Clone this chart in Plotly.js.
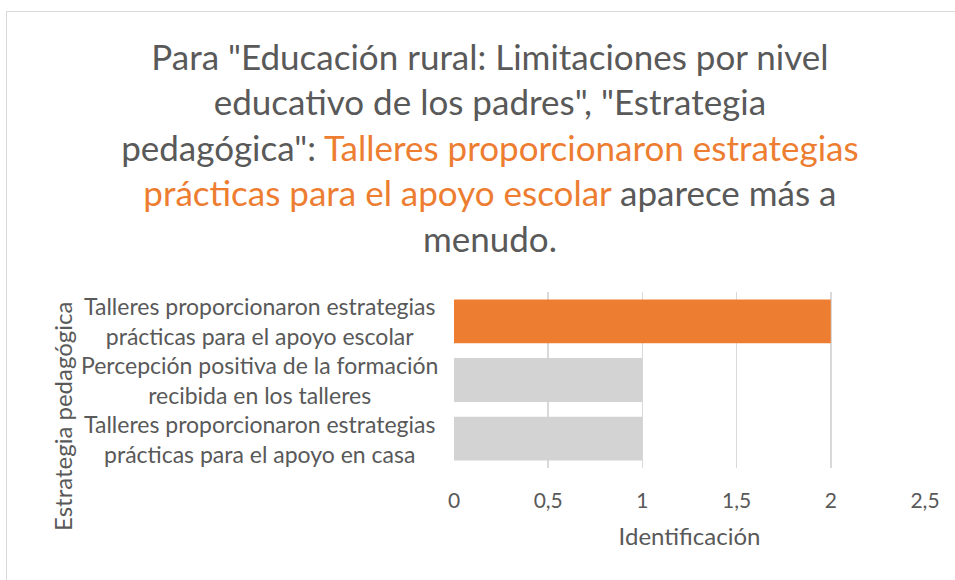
<!DOCTYPE html>
<html>
<head>
<meta charset="utf-8">
<script src="https://cdn.plot.ly/plotly-3.0.1.min.js"></script>
<style>
  html, body { margin: 0; padding: 0; background: #fff; overflow: hidden; }
  #chart { width: 955px; height: 580px; }
  #frame { position: absolute; left: 6px; top: 11px; width: 1200px; height: 1200px;
           border: 1px solid #D9D9D9; pointer-events: none; }
</style>
</head>
<body>
<div id="chart"></div>
<div id="frame"></div>
<script>
// Data (bottom to top as drawn)
const categories = [
  "Talleres proporcionaron estrategias<br>prácticas para el apoyo en casa",
  "Percepción positiva de la formación<br>recibida en los talleres",
  "Talleres proporcionaron estrategias<br>prácticas para el apoyo escolar"
];
const values = [1, 1, 2];
const barColors = ["#D3D3D3", "#D3D3D3", "#ED7D31"];
const xTickVals = [0, 0.5, 1, 1.5, 2, 2.5];
const xTickText = ["0", "0,5", "1", "1,5", "2", "2,5"];

const FONT = "Lato, 'Open Sans', sans-serif";
const GREY = "#595959";

const trace = {
  type: "bar",
  orientation: "h",
  y: categories,
  x: values,
  marker: { color: barColors },
  hoverinfo: "none"
};

const annotations = categories.map(c => ({
  xref: "paper", yref: "y",
  x: -0.414, y: c,
  xanchor: "center", yanchor: "middle",
  text: c, align: "center", showarrow: false,
  font: { family: FONT, size: 23, color: GREY }
}));
annotations.push({
  xref: "paper", yref: "paper",
  x: -0.83, y: 0.29,
  xanchor: "center", yanchor: "middle",
  textangle: -90, text: "Estrategia pedagógica", showarrow: false,
  font: { family: FONT, size: 24, color: GREY }
});

const layout = {
  width: 955, height: 580,
  margin: { l: 454, r: 30, t: 292, b: 112 },
  paper_bgcolor: "#fff", plot_bgcolor: "#fff",
  showlegend: false,
  bargap: 0.254,
  title: {
    text: 'Para "Educación rural: Limitaciones por nivel<br>educativo de los padres", "Estrategia<br>pedagógica": <span style="color:#ED7D31">Talleres proporcionaron estrategias</span><br><span style="color:#ED7D31">prácticas para el apoyo escolar</span> aparece más a<br>menudo.',
    font: { family: FONT, size: 35, color: GREY },
    x: 0.513, xanchor: "center",
    y: 0.88, yanchor: "top", yref: "container"
  },
  xaxis: {
    range: [0, 2.5],
    tickvals: xTickVals, ticktext: xTickText,
    showgrid: true, gridcolor: "#D9D9D9", gridwidth: 1.5,
    zeroline: false, showline: false, ticks: "",
    ticklabelstandoff: 18,
    tickfont: { family: FONT, size: 21, color: GREY },
    title: { text: "Identificación", font: { family: FONT, size: 24, color: GREY }, standoff: 17 },
    fixedrange: true
  },
  yaxis: {
    type: "category",
    range: [-0.5, 2.5],
    showticklabels: false, showgrid: false, zeroline: false, showline: false, ticks: "",
    fixedrange: true
  },
  annotations: annotations
};

Plotly.newPlot("chart", [trace], layout, { displayModeBar: false, staticPlot: true });
</script>
</body>
</html>
